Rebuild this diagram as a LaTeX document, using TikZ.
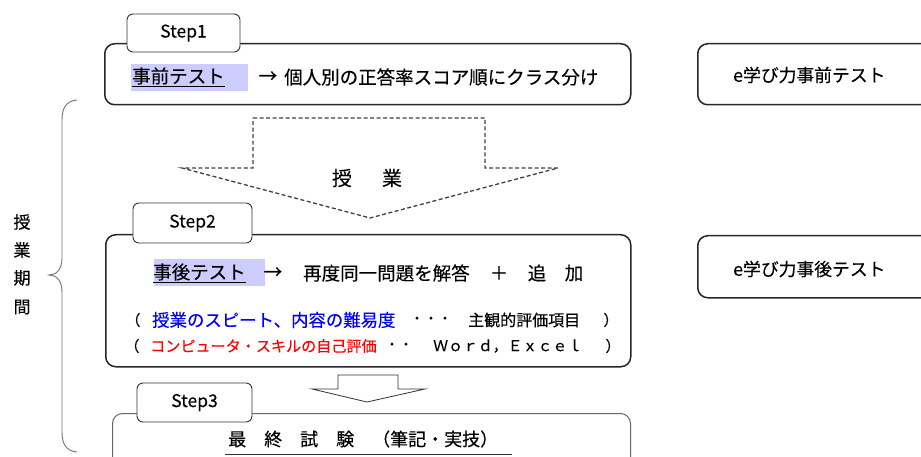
\documentclass[tikz,border=0pt]{standalone}
\usepackage{fontspec}
\setmainfont[FakeBold=0.25]{Noto Sans CJK JP}
\definecolor{hl}{HTML}{CCCCFF}
\definecolor{txtblue}{HTML}{0000FF}
\definecolor{txtred}{HTML}{FF0000}
\newcommand{\fs}[1]{\fontsize{#1}{#1}\selectfont}
\begin{document}
\begin{tikzpicture}[x=1pt,y=-1pt,
  mainbox/.style={draw=black!85, line width=1.5pt, rounded corners=10pt, fill=white, anchor=north west, inner sep=0pt},
  lightbox/.style={draw=black!60, line width=1pt, rounded corners=10pt, fill=white, anchor=north west, inner sep=0pt},
  tabbox/.style={draw=black!80, line width=0.9pt, rounded corners=6pt, fill=white, inner sep=0pt, font=\fs{17.5}},
  hlbox/.style={fill=hl, inner sep=0pt, anchor=north west},
  txt/.style={inner sep=0pt, anchor=west},
  ctxt/.style={inner sep=0pt, anchor=center},
  dasharrow/.style={draw=black!75, line width=1.3pt, dash pattern=on 4pt off 2.5pt},
  hollowarrow/.style={draw=black!80, line width=0.8pt, fill=white},
  bracestyle/.style={draw=black!55, line width=0.9pt}
]
\useasboundingbox (0,0) rectangle (921,457);

% ---------- Step 1 ----------
\node[mainbox, minimum width=526pt, minimum height=61pt] (box1) at (104,43) {};
\node[tabbox, minimum width=113pt, minimum height=38pt] (tab1) at (183.5,33) {Step1};
\node[hlbox, minimum width=117pt, minimum height=27pt] (hl1) at (131,64) {};
\node[txt, font=\fs{18.5}] (pre) at (132,77) {\underline{事前テスト}};
\node[ctxt, font=\fs{18.5}] (arr1) at (268,77) {→};
\node[txt, font=\fs{18.5}] (cls) at (284,77) {個人別の正答率スコア順にクラス分け};

% ---------- right boxes ----------
\node[mainbox, minimum width=240pt, minimum height=61pt] (rb1) at (697,43) {};
\node[txt, font=\fs{17.8}] (rt1) at (733,75) {e学び力事前テスト};
\node[mainbox, minimum width=240pt, minimum height=62pt] (rb2) at (697,235) {};
\node[txt, font=\fs{17.8}] (rt2) at (733,269) {e学び力事後テスト};

% ---------- dashed arrow ----------
\draw[dasharrow] (253,118) -- (485,118) -- (485,168) -- (558,168) -- (370,218) -- (182,168) -- (253,168) -- cycle;
\node[ctxt, font=\fs{20}] (ju1) at (342,178) {授};
\node[ctxt, font=\fs{20}] (ju2) at (392,178) {業};

% ---------- Step 2 ----------
\node[mainbox, minimum width=525pt, minimum height=132pt] (box2) at (105,234) {};
\node[tabbox, minimum width=119pt, minimum height=40pt] (tab2) at (192.5,223) {Step2};
\node[hlbox, minimum width=111pt, minimum height=27pt] (hl2) at (154,259) {};
\node[txt, font=\fs{18.5}] (post) at (153,273) {\underline{事後テスト}};
\node[ctxt, font=\fs{18.5}] (arr2) at (273,273) {→};
\node[txt, font=\fs{18.5}] (again) at (303,273) {再度同一問題を解答};
\node[ctxt, font=\fs{18.5}] (plus) at (499,273) {＋};
\node[ctxt, font=\fs{18.5}] (tsui) at (537,273) {追};
\node[ctxt, font=\fs{18.5}] (ka) at (574,273) {加};

\node[ctxt, font=\fs{15}] (p1l) at (133,320) {（};
\node[txt, font=\fs{17.4}, text=txtblue] (blue) at (152,320) {授業のスピート、内容の難易度};
\node[ctxt, font=\fs{14}] (dots1) at (431,320) {・・・};
\node[txt, font=\fs{16}] (subj) at (468,320) {主観的評価項目};
\node[ctxt, font=\fs{15}] (p1r) at (611,320) {）};

\node[ctxt, font=\fs{15}] (p2l) at (132,346) {（};
\node[txt, font=\fs{15.1}, text=txtred] (red) at (150,346) {コンピュータ・スキルの自己評価};
\node[ctxt, font=\fs{14}] (dots2) at (399,346) {・・};
\node[txt, font=\fs{14.9}] (we) at (433,346) {Ｗｏｒｄ，Ｅｘｃｅｌ};
\node[ctxt, font=\fs{15}] (p2r) at (613,346) {）};

% ---------- hollow arrow ----------
\draw[hollowarrow] (338,375) -- (398,375) -- (398,389) -- (425,389) -- (367,402) -- (312,389) -- (338,389) -- cycle;

% ---------- Step 3 ----------
\node[lightbox, minimum width=518pt, minimum height=60pt] (box3) at (112,413) {};
\node[tabbox, minimum width=115pt, minimum height=39pt] (tab3) at (194.5,402.5) {Step3};
\node[txt, font=\fs{18}] (final) at (228,439) {最　終　試　験　（筆記・実技）};
\coordinate (ul1) at (225,454);
\coordinate (ul2) at (512,454);
\draw[black!80, line width=1pt] (ul1) -- (ul2);

% ---------- brace and period label ----------
\draw[bracestyle] (77,100) .. controls (66,101) and (62,108) .. (62,120) -- (62,258)
  .. controls (62,270) and (56,275) .. (49,275)
  .. controls (56,275) and (62,280) .. (62,292) -- (62,432)
  .. controls (62,444) and (66,451) .. (77,452);
\node[ctxt, font=\fs{17}] (v1) at (22,222) {授};
\node[ctxt, font=\fs{17}] (v2) at (22,250) {業};
\node[ctxt, font=\fs{17}] (v3) at (22,278) {期};
\node[ctxt, font=\fs{17}] (v4) at (22,307) {間};
\end{tikzpicture}
\end{document}
